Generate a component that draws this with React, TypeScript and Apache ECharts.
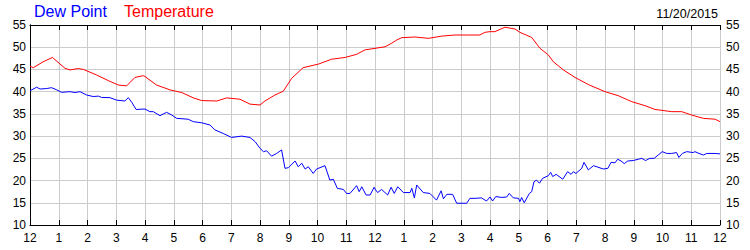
import React, { useEffect, useRef } from "react";
import * as echarts from "echarts";

const tempHours = [0, 0.12, 0.45, 0.78, 1.22, 1.39, 1.68, 1.86, 2.32, 2.72, 3.07, 3.36, 3.65, 3.94, 4.0, 4.4, 4.87, 5.28, 5.68, 5.97, 6.5, 6.84, 7.3, 7.65, 8.0, 8.17, 8.52, 8.81, 9.1, 9.5, 10.03, 10.49, 10.96, 11.36, 11.65, 12.0, 12.35, 12.58, 12.75, 12.93, 13.39, 13.86, 14.32, 14.78, 15.25, 15.65, 15.82, 16.0, 16.17, 16.52, 16.87, 17.04, 17.45, 17.74, 18.03, 18.2, 18.55, 18.96, 19.42, 20.0, 20.46, 20.93, 21.39, 21.74, 22.32, 22.67, 23.01, 23.42, 23.83, 24.0];
const tempValues = [45.7, 45.4, 46.7, 47.7, 45.25, 44.9, 45.2, 45.0, 43.75, 42.5, 41.5, 41.3, 43.2, 43.6, 43.4, 41.5, 40.4, 39.8, 38.6, 38.0, 37.9, 38.6, 38.3, 37.2, 37.0, 37.9, 39.25, 40.1, 43.0, 45.4, 46.2, 47.3, 47.7, 48.4, 49.4, 49.75, 50.1, 50.9, 51.6, 52.15, 52.3, 52.0, 52.5, 52.75, 52.75, 52.75, 53.35, 53.5, 53.5, 54.5, 54.1, 53.35, 52.2, 49.75, 48.25, 46.75, 44.9, 43.2, 41.6, 40.0, 39.1, 37.75, 36.85, 36.0, 35.5, 35.5, 34.75, 34.0, 33.8, 33.25];

const dewHours = [0, 0.23, 0.35, 0.58, 0.75, 0.93, 1.1, 1.39, 1.57, 1.74, 1.97, 2.2, 2.38, 2.49, 2.78, 3.01, 3.3, 3.42, 3.54, 3.69, 4.0, 4.17, 4.29, 4.52, 4.75, 4.93, 5.1, 5.5, 5.68, 5.97, 6.26, 6.43, 6.72, 7.01, 7.36, 7.65, 7.83, 8.0, 8.12, 8.23, 8.4, 8.58, 8.75, 8.87, 8.99, 9.22, 9.33, 9.45, 9.57, 9.68, 9.85, 9.97, 10.26, 10.43, 10.55, 10.69, 10.9, 11.01, 11.13, 11.36, 11.45, 11.54, 11.69, 11.83, 11.97, 12.0, 12.09, 12.23, 12.44, 12.56, 12.67, 12.79, 12.99, 13.22, 13.28, 13.37, 13.45, 13.68, 13.91, 14.14, 14.3, 14.38, 14.5, 14.7, 14.84, 15.19, 15.3, 15.48, 15.7, 15.88, 16.0, 16.09, 16.2, 16.41, 16.58, 16.67, 16.81, 16.99, 17.04, 17.1, 17.19, 17.37, 17.45, 17.53, 17.62, 17.72, 17.83, 18.03, 18.11, 18.18, 18.3, 18.53, 18.7, 18.82, 18.9, 18.99, 19.19, 19.27, 19.42, 19.6, 19.94, 20.1, 20.21, 20.35, 20.44, 20.56, 20.67, 20.79, 20.98, 21.16, 21.28, 21.41, 21.56, 21.71, 21.85, 21.99, 22.15, 22.32, 22.49, 22.57, 22.69, 22.84, 23.07, 23.13, 23.27, 23.42, 23.54, 23.83, 24.0];
const dewValues = [40.2, 41.0, 40.6, 40.7, 40.9, 40.4, 39.85, 40.0, 39.8, 40.0, 39.25, 38.9, 39.0, 38.7, 38.65, 38.1, 37.9, 38.65, 37.6, 36.0, 36.1, 35.5, 35.5, 34.6, 35.35, 34.75, 34.0, 33.8, 33.25, 33.0, 32.5, 31.4, 30.6, 29.7, 30.0, 29.7, 28.75, 27.25, 26.5, 26.7, 25.5, 26.1, 26.9, 22.75, 22.9, 24.4, 23.1, 23.9, 22.6, 23.1, 21.6, 22.6, 23.35, 20.1, 20.3, 18.25, 18.0, 17.1, 17.1, 18.85, 17.5, 18.6, 16.75, 16.75, 18.5, 18.1, 17.3, 18.0, 16.75, 18.5, 17.1, 18.6, 17.3, 17.3, 18.25, 16.1, 19.0, 17.3, 17.1, 15.6, 17.7, 15.9, 16.9, 16.9, 14.9, 14.9, 16.0, 16.0, 16.1, 15.4, 16.3, 15.4, 16.4, 16.2, 16.3, 17.1, 16.1, 16.0, 15.25, 16.2, 15.0, 17.1, 17.5, 19.75, 20.1, 19.4, 20.5, 21.1, 21.85, 20.9, 21.4, 20.3, 22.0, 21.4, 22.0, 21.6, 22.75, 24.1, 22.4, 23.35, 22.6, 22.75, 24.1, 24.0, 24.8, 24.4, 23.8, 24.4, 24.5, 24.8, 25.0, 24.5, 25.0, 25.0, 25.75, 26.5, 26.1, 26.1, 26.3, 25.2, 26.1, 26.5, 26.3, 26.5, 26.1, 25.75, 26.1, 26.1, 26.0];

const yMin = 10;
const yMax = 55;
const yStep = 5;
const dateLabel = "11/20/2015";
const legendNames = ["Dew Point", "Temperature"];

function pairs(xs: number[], ys: number[]) {
  return xs.map((x, i) => [x, ys[i]]);
}

function hourLabel(v: number) {
  const h = Math.round(v) % 12;
  return h === 0 ? "12" : String(h);
}

export default function App() {
  const ref = useRef<HTMLDivElement>(null);
  useEffect(() => {
    if (!ref.current) return;
    const chart = echarts.init(ref.current, null, { renderer: "svg" });
    const font = "Liberation Sans, Arial, sans-serif";
    const axisLine = { show: true, lineStyle: { color: "#000", width: 1 } };
    chart.setOption({
      animation: false,
      backgroundColor: "#fff",
      textStyle: { fontFamily: font },
      grid: { left: 30, right: 30, top: 25, bottom: 25, containLabel: false },
      graphic: [
        { type: "text", left: 34, top: 3, style: { text: legendNames[0], fill: "#0000ff", font: `16px ${font}` } },
        { type: "text", left: 124, top: 3, style: { text: legendNames[1], fill: "#ff0000", font: `16px ${font}` } },
        { type: "text", right: 32, top: 7, style: { text: dateLabel, fill: "#000", font: `12.5px ${font}` } },
      ],
      xAxis: [
        {
          type: "value", min: 0, max: 24, interval: 1, position: "bottom",
          axisLine,
          axisTick: { show: true, inside: true, length: 5, lineStyle: { color: "#000" } },
          axisLabel: { formatter: hourLabel, color: "#000", fontSize: 12, margin: 7, fontFamily: font },
          splitLine: { show: true, lineStyle: { color: "#cccccc", width: 1 } },
        },
        {
          type: "value", min: 0, max: 24, interval: 1, position: "top",
          axisLine,
          axisTick: { show: true, inside: true, length: 5, lineStyle: { color: "#000" } },
          axisLabel: { show: false },
          splitLine: { show: false },
        },
      ],
      yAxis: [
        {
          type: "value", min: yMin, max: yMax, interval: yStep, position: "left",
          axisLine, axisTick: { show: false },
          axisLabel: { color: "#000", fontSize: 12, margin: 4, fontFamily: font },
          splitLine: { show: true, lineStyle: { color: "#cccccc", width: 1 } },
        },
        {
          type: "value", min: yMin, max: yMax, interval: yStep, position: "right",
          axisLine, axisTick: { show: false },
          axisLabel: { color: "#000", fontSize: 12, margin: 6, fontFamily: font },
          splitLine: { show: false },
        },
      ],
      series: [
        {
          name: legendNames[1], type: "line", data: pairs(tempHours, tempValues),
          showSymbol: false, symbol: "none", lineStyle: { color: "#ff0000", width: 1 },
          itemStyle: { color: "#ff0000" },
        },
        {
          name: legendNames[0], type: "line", data: pairs(dewHours, dewValues),
          showSymbol: false, symbol: "none", lineStyle: { color: "#0000ff", width: 1 },
          itemStyle: { color: "#0000ff" },
        },
      ],
    });
    return () => chart.dispose();
  }, []);
  return <div ref={ref} style={{ position: "fixed", left: 0, top: 0, width: 750, height: 250 }} />;
}
